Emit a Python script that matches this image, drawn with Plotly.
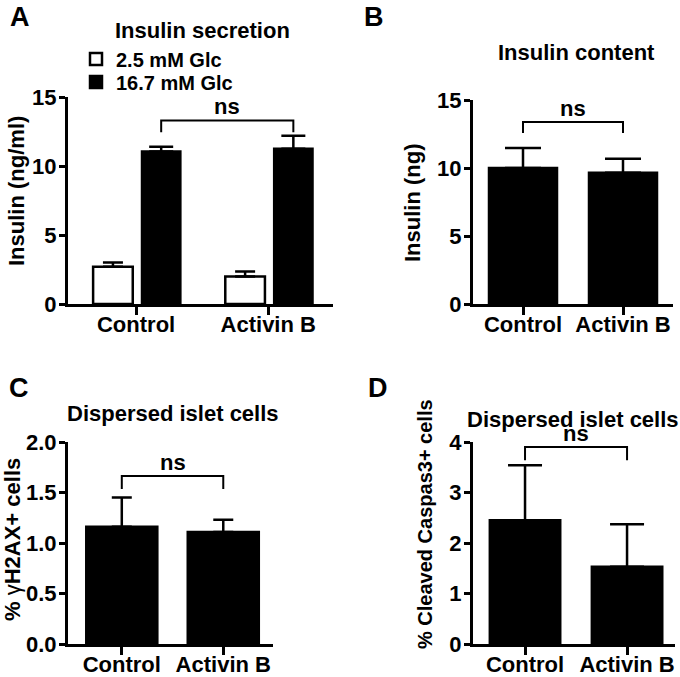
import plotly.graph_objects as go

# ---------------- data ----------------
groups = ["Control", "Activin B"]

# Panel A: insulin secretion (ng/ml)
a_low_mean = [2.7, 2.0]      # 2.5 mM Glc
a_low_err = [0.3, 0.35]
a_high_mean = [11.05, 11.25]  # 16.7 mM Glc
a_high_err = [0.35, 0.95]

# Panel B: insulin content (ng)
b_mean = [10.0, 9.65]
b_err = [1.47, 1.03]

# Panel C: % gammaH2AX+ cells
c_mean = [1.16, 1.11]
c_err = [0.29, 0.12]

# Panel D: % cleaved caspase3+ cells
d_mean = [2.45, 1.53]
d_err = [1.09, 0.84]

# significance bracket levels (top, bottom of the drop) per panel
bracket_a = [13.3, 12.45]
bracket_b = [13.38, 12.57]
bracket_c = [1.663, 1.535]
bracket_d = [3.9, 3.64]

y_ticks_a = [0, 5, 10, 15]
y_ticks_b = [0, 5, 10, 15]
y_ticks_c = [0.0, 0.5, 1.0, 1.5, 2.0]
y_ticks_d = [0, 1, 2, 3, 4]

# ---------------- style ----------------
W, H = 680, 677
FONT = "Liberation Sans, Arial, sans-serif"
FS = 22
xpos = list(range(len(groups)))


def px_x(p):
    return p / W


def px_y(p):
    return 1 - p / H


fig = go.Figure()

# Panel A bars
wa_low, off_low = 0.30, -0.325
wa_high, off_high = 0.29, 0.045
fig.add_trace(go.Bar(
    x=xpos, y=a_low_mean, name="2.5 mM Glc", width=[wa_low] * 2, offset=[off_low] * 2,
    marker=dict(color="white", line=dict(color="black", width=2.5)),
    error_y=dict(type="data", symmetric=False, array=a_low_err, arrayminus=[0, 0],
                 color="black", thickness=2.5, width=10),
    xaxis="x", yaxis="y", showlegend=True, legend="legend"))
fig.add_trace(go.Bar(
    x=xpos, y=a_high_mean, name="16.7 mM Glc", width=[wa_high] * 2, offset=[off_high] * 2,
    marker=dict(color="black", line=dict(color="black", width=2.5)),
    error_y=dict(type="data", symmetric=False, array=a_high_err, arrayminus=[0, 0],
                 color="black", thickness=2.5, width=12),
    xaxis="x", yaxis="y", showlegend=True, legend="legend2"))

# Panels B, C, D bars
single = [
    (b_mean, b_err, "x2", "y2", 0.68, 18),
    (c_mean, c_err, "x3", "y3", 0.70, 10),
    (d_mean, d_err, "x4", "y4", 0.69, 17),
]
for mean, err, xa, ya, w, cap in single:
    fig.add_trace(go.Bar(
        x=xpos, y=mean, width=[w] * 2,
        marker=dict(color="black", line=dict(color="black", width=2.5)),
        error_y=dict(type="data", symmetric=False, array=err, arrayminus=[0, 0],
                     color="black", thickness=2.5, width=cap),
        xaxis=xa, yaxis=ya, showlegend=False))

# brackets
hi_center = [p + off_high + wa_high / 2 for p in xpos]
brackets = [
    (hi_center, bracket_a, "x", "y"),
    (xpos, bracket_b, "x2", "y2"),
    (xpos, bracket_c, "x3", "y3"),
    (xpos, bracket_d, "x4", "y4"),
]
annotations = []
for xs, (top, bot), xa, ya in brackets:
    fig.add_trace(go.Scatter(
        x=[xs[0], xs[0], xs[1], xs[1]], y=[bot, top, top, bot], mode="lines",
        line=dict(color="black", width=2), xaxis=xa, yaxis=ya,
        showlegend=False, hoverinfo="skip"))
    annotations.append(dict(
        x=(xs[0] + xs[1]) / 2, y=top, xref=xa, yref=ya, text="ns",
        showarrow=False, yanchor="bottom", yshift=-1,
        font=dict(family=FONT, size=FS, color="black", weight="bold")))

# axes
domains = {
    "": ([px_x(68), px_x(333)], [px_y(304), px_y(97)], [-0.515, 1.49], [0, 15], y_ticks_a, None),
    "2": ([px_x(473), px_x(673)], [px_y(304), px_y(100)], [-0.5, 1.5], [0, 15], y_ticks_b, None),
    "3": ([px_x(68), px_x(273)], [px_y(644), px_y(442)], [-0.53, 1.49], [0, 2], y_ticks_c, ".1f"),
    "4": ([px_x(473), px_x(675)], [px_y(644), px_y(442)], [-0.51, 1.47], [0, 4], y_ticks_d, None),
}
tickfont = dict(family=FONT, size=FS, color="black", weight="bold")
layout_axes = {}
for k, (xd, yd, xr, yr, yt, fmt) in domains.items():
    layout_axes["xaxis" + k] = dict(
        domain=xd, range=xr, anchor="y" + k, tickmode="array", tickvals=xpos,
        ticktext=groups, ticks="outside", ticklen=8, tickwidth=2.5, tickcolor="black",
        ticklabelstandoff=-9,
        showline=True, linewidth=3, linecolor="black", showgrid=False, zeroline=False,
        tickfont=tickfont, fixedrange=True, automargin=False)
    yax = dict(
        domain=yd, range=yr, anchor="x" + k, tickmode="array", tickvals=yt,
        ticks="outside", ticklen=6, tickwidth=2.5, tickcolor="black",
        ticklabelstandoff=-2,
        showline=True, linewidth=3, linecolor="black", showgrid=False, zeroline=False,
        tickfont=tickfont, fixedrange=True, automargin=False)
    if fmt:
        yax["tickformat"] = fmt
    layout_axes["yaxis" + k] = yax


# panel letters, titles, axis titles
def txt(text, x, y, size=FS, angle=0, xanchor="center"):
    return dict(text=text, x=px_x(x), y=px_y(y), xref="paper", yref="paper",
                showarrow=False, xanchor=xanchor, yanchor="middle", textangle=angle,
                font=dict(family=FONT, size=size, color="black", weight="bold"))


annotations += [
    txt("A", 8, 17, 27, xanchor="left"),
    txt("B", 362, 17, 27, xanchor="left"),
    txt("C", 7, 388, 27, xanchor="left"),
    txt("D", 366, 388, 27, xanchor="left"),
    txt("Insulin secretion", 202, 31),
    txt("Insulin content", 576, 52),
    txt("Dispersed islet cells", 173, 413),
    txt("Dispersed islet cells", 573, 419),
    txt("Insulin (ng/ml)", 17, 191, angle=-90),
    txt("Insulin (ng)", 412, 202, angle=-90),
    txt("% <span style='font-weight:normal'>γ</span>H2AX+ cells", 12, 540, angle=-90),
    txt("% Cleaved Caspas3+ cells", 425, 524, 20, angle=-90),
]

legend_common = dict(xanchor="left", yanchor="middle", bgcolor="rgba(0,0,0,0)",
                     font=dict(family=FONT, size=20, color="black", weight="bold"))

fig.update_layout(
    width=W, height=H, margin=dict(l=0, r=0, t=0, b=0, autoexpand=False),
    paper_bgcolor="white", plot_bgcolor="white",
    barmode="overlay",
    font=dict(family=FONT, size=FS, color="black"),
    legend=dict(x=px_x(76), y=px_y(59), **legend_common),
    legend2=dict(x=px_x(76), y=px_y(82), **legend_common),
    annotations=annotations,
    **layout_axes,
)

fig.write_html("out.html", config={"displayModeBar": False},
               post_script="document.body.style.margin='0px';document.body.style.overflow='hidden';")
